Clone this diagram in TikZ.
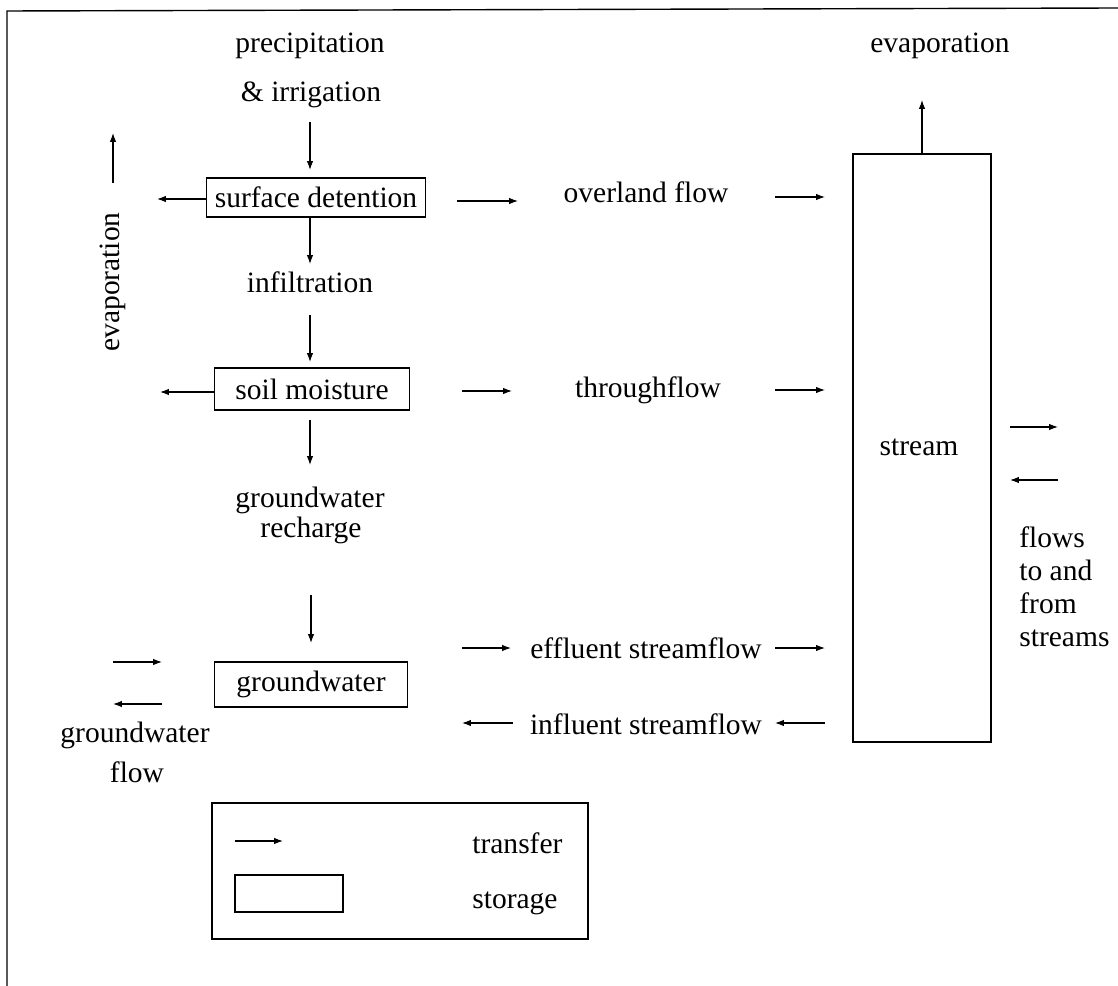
\documentclass[tikz,border=0pt]{standalone}
\usepackage{fontspec}
\setmainfont{Liberation Serif}
\usetikzlibrary{arrows.meta}
\begin{document}
\begin{tikzpicture}[x=0.02cm,y=-0.02cm,
  lbl/.style={font=\fontsize{16.8}{20}\selectfont, inner sep=0pt, anchor=base},
  flow/.style={line width=0.6pt,-{Latex[length=5pt,width=3.6pt]}},
  store/.style={draw, line width=0.7pt, inner sep=0pt, font=\fontsize{16.8}{20}\selectfont},
  frame/.style={line width=0.8pt}]
\useasboundingbox (0,0) rectangle (1118,986);
% outer frame (top and left edges only)
\coordinate (fTR) at (1118,8);
\coordinate (fTL) at (7,11);
\coordinate (fBL) at (7,986);
\draw[frame] (fTR) -- (fTL) -- (fBL);

% storages
\node[store, minimum width=4.38cm, minimum height=0.78cm] (sd) at (316,197.5) {surface detention};
\node[store, minimum width=3.9cm, minimum height=0.84cm] (sm) at (312,389) {soil moisture};
\node[store, minimum width=3.86cm, minimum height=0.9cm] (gw) at (311,684.5) {groundwater};
\node[store, minimum width=2.76cm, minimum height=11.76cm] (st) at (922,448) {};
\node[lbl] (stt) at (919,455) {stream};

% labels
\node[lbl] (prec1) at (310,53) {precipitation};
\node[lbl] (prec2) at (311,102) {\& irrigation};
\node[lbl] (inf) at (310,293) {infiltration};
\node[lbl] (gwr1) at (310,507) {groundwater};
\node[lbl] (gwr2) at (311,537) {recharge};
\node[lbl] (gwf1) at (135,742) {groundwater};
\node[lbl] (gwf2) at (137,782) {flow};
\node[lbl] (ovl) at (646,203) {overland flow};
\node[lbl] (thr) at (648,397) {throughflow};
\node[lbl] (eff) at (646,658) {effluent streamflow};
\node[lbl] (infl) at (646,734) {influent streamflow};
\node[lbl] (evr) at (940,53) {evaporation};
\node[lbl, rotate=90, anchor=center] (evl) at (113,282) {evaporation};
\node[font=\fontsize{16.8}{18.9}\selectfont, inner sep=0pt, align=left, anchor=north west] (fls) at (1019,526) {flows\\to and\\from\\streams};

% left column vertical transfers
\coordinate (a1s) at (310,122); \coordinate (a1e) at (310,170);
\draw[flow] (a1s) -- (a1e);
\coordinate (a2s) at (310,218); \coordinate (a2e) at (310,264);
\draw[flow] (a2s) -- (a2e);
\coordinate (a3s) at (310,315); \coordinate (a3e) at (310,362);
\draw[flow] (a3s) -- (a3e);
\coordinate (a4s) at (310,420); \coordinate (a4e) at (310,465);
\draw[flow] (a4s) -- (a4e);
\coordinate (a5s) at (311,595); \coordinate (a5e) at (311,643);
\draw[flow] (a5s) -- (a5e);

% evaporation to the left
\coordinate (e1) at (157,199);
\draw[flow] (sd.west |- e1) -- (e1);
\coordinate (e2) at (160,392);
\draw[flow] (sm.west |- e2) -- (e2);
\coordinate (e3s) at (113,183); \coordinate (e3e) at (113,133);
\draw[flow] (e3s) -- (e3e);

% groundwater flow
\coordinate (g1s) at (113,662); \coordinate (g1e) at (162,662);
\draw[flow] (g1s) -- (g1e);
\coordinate (g2s) at (162,704); \coordinate (g2e) at (113,704);
\draw[flow] (g2s) -- (g2e);

% lateral transfers
\coordinate (o1s) at (457,201); \coordinate (o1e) at (518,201);
\draw[flow] (o1s) -- (o1e);
\coordinate (o2s) at (775,197); \coordinate (o2e) at (825,197);
\draw[flow] (o2s) -- (o2e);
\coordinate (t1s) at (462,391); \coordinate (t1e) at (512,391);
\draw[flow] (t1s) -- (t1e);
\coordinate (t2s) at (775,390); \coordinate (t2e) at (825,390);
\draw[flow] (t2s) -- (t2e);
\coordinate (f1s) at (462,648); \coordinate (f1e) at (511,648);
\draw[flow] (f1s) -- (f1e);
\coordinate (f2s) at (775,648); \coordinate (f2e) at (825,648);
\draw[flow] (f2s) -- (f2e);
\coordinate (i1s) at (513,723); \coordinate (i1e) at (462,723);
\draw[flow] (i1s) -- (i1e);
\coordinate (i2s) at (825,723); \coordinate (i2e) at (775,723);
\draw[flow] (i2s) -- (i2e);

% stream evaporation and flows to/from streams
\coordinate (se) at (922,100);
\draw[flow] (st.north -| se) -- (se);
\coordinate (r1s) at (1010,427); \coordinate (r1e) at (1058,427);
\draw[flow] (r1s) -- (r1e);
\coordinate (r2s) at (1058,480); \coordinate (r2e) at (1010,480);
\draw[flow] (r2s) -- (r2e);

% legend
\node[store, minimum width=7.52cm, minimum height=2.72cm] (leg) at (400,871) {};
\coordinate (l1s) at (235,841); \coordinate (l1e) at (283,841);
\draw[flow] (l1s) -- (l1e);
\node[store, minimum width=2.16cm, minimum height=0.74cm] (legbox) at (289,893.5) {};
\node[lbl, anchor=base west] (ltr) at (472,853) {transfer};
\node[lbl, anchor=base west] (lst) at (472,908) {storage};
\end{tikzpicture}
\end{document}
